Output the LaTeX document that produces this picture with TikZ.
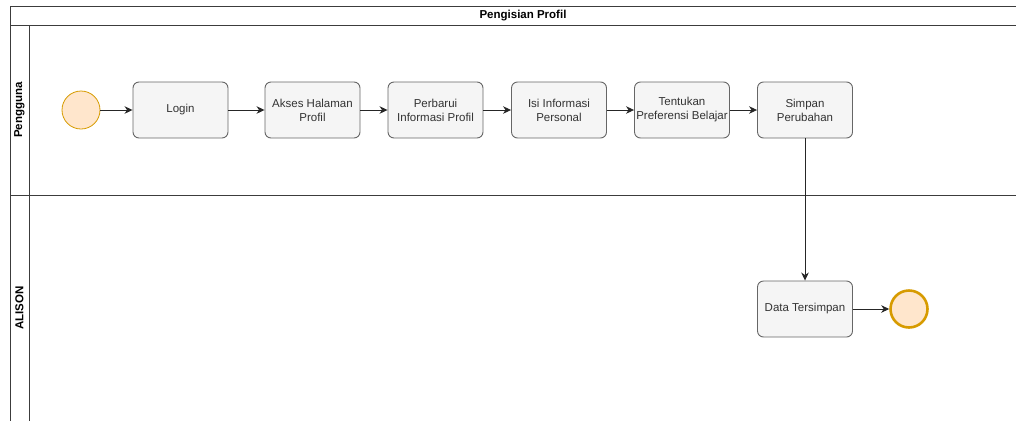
\documentclass[tikz,border=0pt]{standalone}
\usepackage{fontspec}
\setmainfont{Liberation Sans}
\usetikzlibrary{arrows.meta,positioning}
\definecolor{taskFill}{HTML}{F5F5F5}
\definecolor{taskLine}{HTML}{666666}
\definecolor{taskText}{HTML}{333333}
\definecolor{eventFill}{HTML}{FFE6CC}
\definecolor{eventLine}{HTML}{D79B00}
\definecolor{poolLine}{HTML}{3C3C3C}

\begin{document}
\begin{tikzpicture}[x=1pt,y=-1pt,
  task/.style={draw=taskLine, fill=taskFill, rounded corners=6pt, line width=0.9pt,
    minimum width=95pt, minimum height=56pt, inner sep=1pt, align=center,
    text=taskText, font=\fontsize{11.5}{14}\selectfont},
  startev/.style={circle, draw=eventLine, fill=eventFill, minimum size=38pt, line width=0.8pt},
  stopev/.style={circle, draw=eventLine, fill=eventFill, minimum size=37pt, line width=2.6pt},
  flow/.style={-{Stealth[length=8pt,width=7.5pt,inset=2.5pt]}, line width=0.9pt, draw=black!85},
  pool/.style={draw=poolLine, line width=1pt},
  lanelabel/.style={rotate=90, font=\bfseries\fontsize{11.5}{14}\selectfont}]
\useasboundingbox (0,0) rectangle (1016,421);

% pool and lanes
\draw[pool] (1016,6) -- (10,6) -- (10,421);
\draw[pool] (10,25) -- (1016,25);
\draw[pool] (10,195) -- (1016,195);
\draw[pool] (29,25) -- (29,421);
\node[font=\bfseries\fontsize{11.5}{14}\selectfont] (title) at (523,15.5) {Pengisian Profil};
\node[lanelabel] (lane1) at (19.5,110) {Pengguna};
\node[lanelabel] (lane2) at (19.5,308) {ALISON};

% lane Pengguna
\node[startev] (start) at (81,110) {};
\node[task] (login) at (180.5,110) {Login};
\node[task] (akses) at (312.5,110) {Akses Halaman\\Profil};
\node[task] (perbarui) at (435.5,110) {Perbarui\\Informasi Profil};
\node[task] (isi) at (559,110) {Isi Informasi\\Personal};
\node[task] (tentukan) at (682,110) {Tentukan\\Preferensi Belajar};
\node[task] (simpan) at (805,110) {Simpan\\Perubahan};

% lane ALISON
\node[task] (data) at (805,309) {Data Tersimpan};
\node[stopev] (stop) at (909,309) {};

% flows
\draw[flow] (start) -- (login);
\draw[flow] (login) -- (akses);
\draw[flow] (akses) -- (perbarui);
\draw[flow] (perbarui) -- (isi);
\draw[flow] (isi) -- (tentukan);
\draw[flow] (tentukan) -- (simpan);
\draw[flow] (simpan) -- (data);
\draw[flow] (data) -- (stop);
\end{tikzpicture}
\end{document}
